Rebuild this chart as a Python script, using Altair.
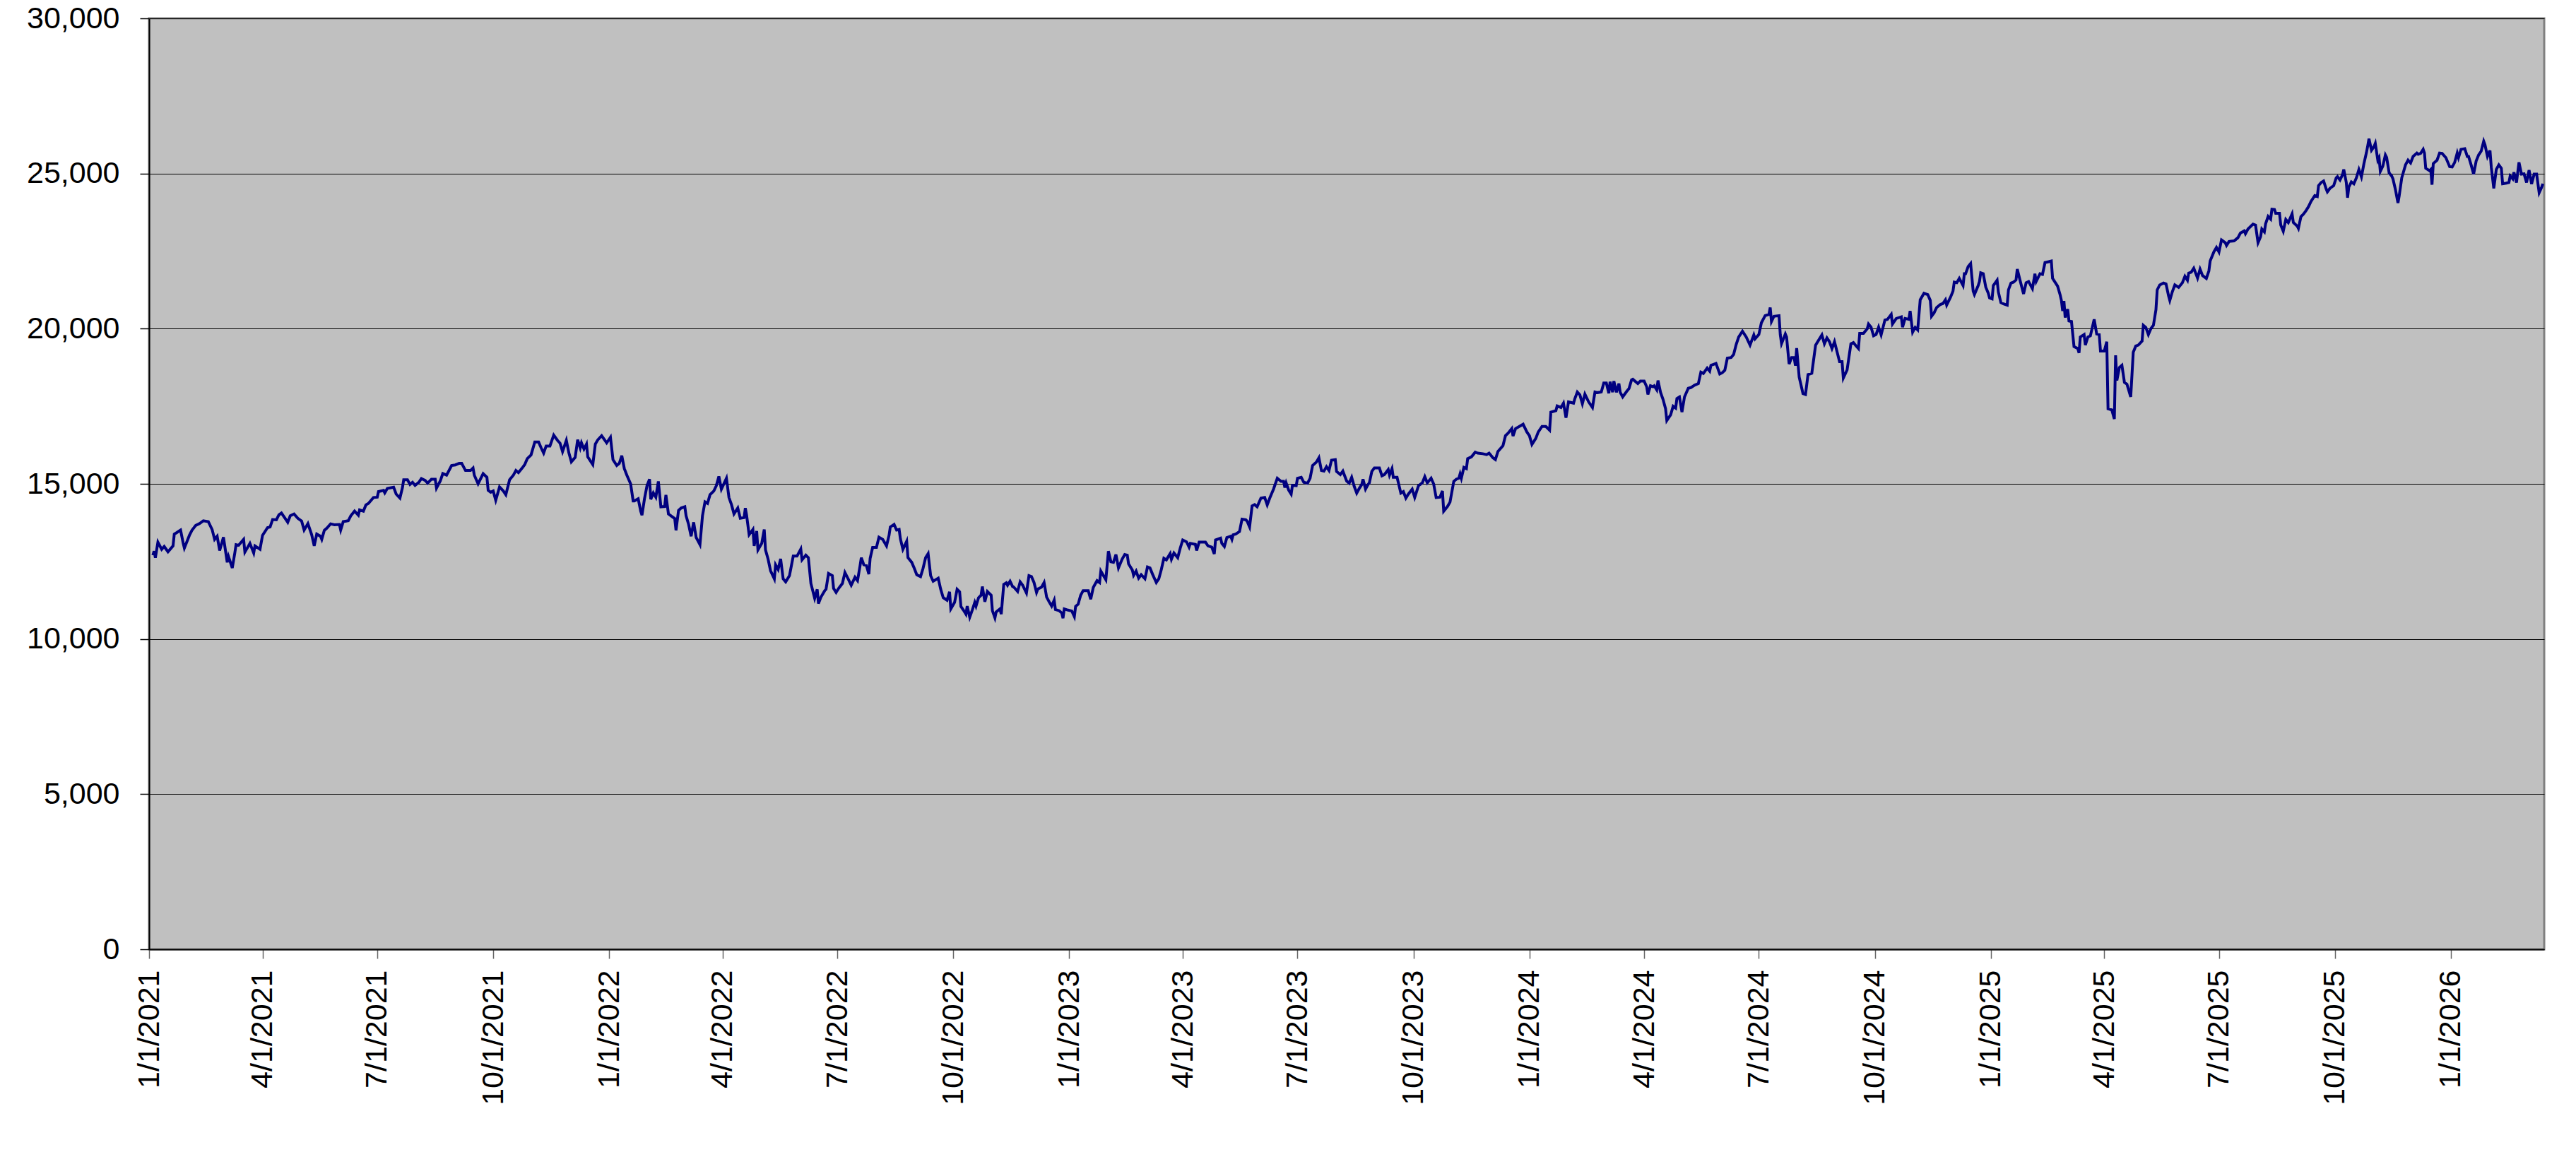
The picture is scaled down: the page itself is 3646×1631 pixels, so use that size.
import altair as alt
import pandas as pd

# Days since 2021-01-01 and index level
days_2021 = [3, 4, 5, 7, 10, 12, 15, 19, 20, 22, 25, 27, 28, 32, 34, 37, 40, 43, 47, 50, 52, 54, 56, 59, 62, 63, 66, 68, 69, 71, 75, 76, 80, 83, 84, 88, 90, 94, 96, 98, 101, 103, 105, 108, 110, 112, 115, 118, 121, 123, 126, 129, 131, 133, 136, 137, 139, 141, 144, 147, 151, 152, 154, 158, 160, 163, 166, 167, 170, 172, 174, 178, 181, 182, 186, 187, 189, 194, 196, 199, 201, 202, 205, 207, 209, 211, 214, 216, 219, 221, 224, 227, 228, 231, 233, 236, 240, 243, 246, 248, 251, 255, 257, 258, 261, 265, 268, 269, 271, 273, 275, 278, 281, 283, 286, 289, 291, 293, 296, 298, 300, 303, 306, 309, 311, 313, 315, 318, 321, 324, 326, 328, 331, 333, 335, 338, 340, 342, 343, 345, 347, 348, 352, 354, 356, 359, 363]
vals_2021 = [12700, 12830, 12620, 13120, 12890, 12980, 12810, 13000, 13380, 13430, 13510, 13100, 12930, 13340, 13500, 13660, 13720, 13810, 13780, 13530, 13210, 13310, 12850, 13280, 12470, 12660, 12290, 12770, 13040, 13020, 13210, 12800, 13080, 12770, 13000, 12890, 13340, 13590, 13610, 13850, 13840, 14000, 14060, 13880, 13760, 13970, 14030, 13890, 13800, 13510, 13720, 13360, 13000, 13380, 13310, 13210, 13500, 13570, 13710, 13680, 13690, 13510, 13780, 13810, 13970, 14120, 13990, 14160, 14120, 14320, 14370, 14560, 14570, 14750, 14790, 14710, 14850, 14890, 14670, 14540, 14880, 15130, 15130, 14980, 15050, 14950, 15050, 15170, 15110, 15020, 15150, 15150, 14860, 15090, 15330, 15280, 15590, 15610, 15660, 15660, 15430, 15430, 15510, 15280, 15000, 15330, 15210, 14790, 14730, 14770, 14470, 14900, 14770, 14650, 15130, 15280, 15430, 15360, 15510, 15620, 15810, 15930, 16350, 16350, 16160, 15990, 16220, 16220, 16570, 16400, 16310, 16040, 16400, 16000, 15710, 15850, 16420, 16160, 16320, 16120, 16280, 15870, 15620, 16280, 16420, 16550, 16320]

days_2022 = [366, 368, 371, 373, 375, 377, 379, 382, 384, 385, 388, 390, 391, 393, 395, 397, 398, 400, 402, 404, 406, 409, 410, 412, 415, 417, 418, 420, 422, 425, 426, 428, 430, 432, 434, 437, 439, 441, 443, 445, 448, 450, 452, 454, 458, 460, 462, 464, 467, 469, 472, 473, 474, 476, 479, 480, 482, 483, 486, 488, 489, 491, 493, 496, 497, 499, 501, 503, 505, 508, 511, 514, 517, 518, 521, 523, 525, 528, 530, 531, 533, 536, 537, 539, 542, 543, 545, 547, 550, 552, 555, 557, 560, 562, 564, 565, 567, 569, 571, 572, 574, 577, 579, 582, 585, 587, 588, 591, 593, 595, 596, 598, 601, 602, 605, 607, 609, 612, 614, 616, 618, 620, 622, 626, 628, 630, 633, 635, 636, 639, 641, 643, 644, 646, 648, 649, 651, 653, 655, 656, 658, 660, 661, 663, 665, 668, 669, 671, 672, 675, 676, 678, 680, 681, 683, 685, 686, 689, 691, 693, 696, 698, 700, 702, 704, 705, 708, 710, 712, 714, 716, 718, 719, 722, 724, 725, 726, 729]
vals_2022 = [16500, 15780, 15590, 15660, 15910, 15490, 15280, 15000, 14450, 14450, 14520, 14120, 13990, 14520, 14940, 15150, 14500, 14710, 14570, 15080, 14260, 14270, 14640, 14030, 13940, 13880, 13500, 14140, 14220, 14260, 13970, 13690, 13310, 13760, 13270, 13040, 13970, 14420, 14370, 14650, 14770, 14940, 15240, 14830, 15180, 14560, 14330, 14030, 14220, 13890, 13910, 14220, 13990, 13360, 13530, 13000, 13480, 12870, 13080, 13530, 12870, 12580, 12200, 11940, 12390, 12240, 12580, 11940, 11840, 12040, 12670, 12670, 12900, 12550, 12700, 12620, 11790, 11310, 11600, 11140, 11350, 11560, 11600, 12110, 12040, 11630, 11500, 11630, 11790, 12140, 11900, 11730, 11990, 11880, 12360, 12620, 12390, 12370, 12090, 12600, 12950, 12950, 13280, 13210, 13000, 13340, 13610, 13690, 13510, 13530, 13230, 12890, 13150, 12620, 12470, 12280, 12070, 12010, 12280, 12620, 12750, 12040, 11860, 11960, 11600, 11330, 11250, 11520, 10970, 11180, 11600, 11520, 11050, 10930, 10800, 11060, 10700, 10930, 11180, 11060, 11330, 11410, 11690, 11200, 11530, 11410, 10910, 10680, 10870, 10970, 10800, 11760, 11810, 11730, 11860, 11690, 11670, 11530, 11840, 11730, 11480, 12040, 12010, 11820, 11500, 11610, 11670, 11820, 11350, 11200, 11060, 11250, 10950, 10910, 10840, 10670, 10970, 10930]

days_2023 = [732, 734, 735, 737, 739, 741, 745, 747, 749, 752, 754, 755, 759, 761, 763, 765, 767, 769, 772, 774, 776, 777, 780, 781, 783, 785, 787, 790, 792, 794, 796, 799, 801, 803, 805, 807, 810, 811, 813, 816, 818, 820, 823, 825, 826, 830, 831, 833, 838, 840, 843, 845, 846, 850, 851, 853, 855, 858, 859, 860, 862, 865, 867, 870, 871, 873, 875, 877, 879, 882, 885, 887, 889, 892, 895, 898, 900, 901, 902, 904, 906, 907, 910, 911, 914, 916, 919, 921, 923, 926, 928, 930, 932, 934, 936, 938, 941, 942, 945, 947, 950, 952, 954, 956, 958, 960, 962, 963, 965, 967, 968, 970, 972, 976, 978, 980, 983, 984, 986, 987, 990, 993, 995, 997, 999, 1002, 1004, 1007, 1010, 1012, 1014, 1017, 1019, 1021, 1024, 1026, 1027, 1030, 1032, 1035, 1037, 1039, 1040, 1041, 1043, 1045, 1046, 1049, 1052, 1054, 1058, 1061, 1063, 1066, 1068, 1070, 1074, 1076, 1078, 1081, 1082, 1084, 1087, 1090, 1093]
vals_2023 = [10900, 10720, 11050, 11120, 11410, 11560, 11560, 11280, 11660, 11880, 11820, 12190, 11910, 12830, 12490, 12470, 12720, 12290, 12580, 12720, 12700, 12420, 12220, 12050, 12190, 11960, 12070, 11940, 12320, 12290, 12090, 11820, 11940, 12240, 12600, 12550, 12750, 12570, 12770, 12620, 12930, 13190, 13130, 12960, 13080, 13050, 12850, 13120, 13120, 13000, 12960, 12740, 13190, 13250, 13080, 12980, 13270, 13310, 13210, 13360, 13380, 13460, 13860, 13840, 13800, 13610, 14290, 14330, 14260, 14540, 14560, 14320, 14540, 14830, 15180, 15080, 15080, 14880, 15030, 14800, 14670, 14950, 14940, 15180, 15210, 15050, 15020, 15180, 15590, 15700, 15840, 15430, 15410, 15550, 15430, 15760, 15780, 15400, 15300, 15410, 15090, 15020, 15210, 14920, 14700, 14850, 14980, 15150, 14830, 14980, 15030, 15400, 15510, 15510, 15260, 15300, 15460, 15280, 15490, 15210, 15210, 14700, 14750, 14540, 14670, 14830, 14560, 14940, 15030, 15230, 15030, 15180, 15000, 14560, 14570, 14770, 14120, 14270, 14410, 15080, 15150, 15180, 15320, 15180, 15530, 15490, 15810, 15870, 16020, 15990, 15970, 15940, 15990, 15840, 15780, 16040, 16230, 16550, 16630, 16780, 16540, 16780, 16850, 16920, 16670]

days_2024 = [1095, 1097, 1100, 1102, 1105, 1108, 1111, 1112, 1116, 1117, 1120, 1122, 1124, 1126, 1130, 1131, 1133, 1135, 1137, 1139, 1142, 1145, 1147, 1149, 1152, 1154, 1156, 1158, 1159, 1161, 1162, 1164, 1166, 1167, 1169, 1172, 1174, 1176, 1177, 1181, 1183, 1186, 1188, 1189, 1191, 1193, 1194, 1196, 1197, 1199, 1201, 1203, 1204, 1207, 1209, 1211, 1212, 1214, 1216, 1218, 1221, 1223, 1226, 1229, 1231, 1233, 1236, 1238, 1239, 1243, 1246, 1248, 1250, 1252, 1255, 1257, 1259, 1261, 1264, 1267, 1270, 1273, 1274, 1277, 1279, 1282, 1285, 1286, 1287, 1289, 1293, 1294, 1295, 1298, 1299, 1301, 1303, 1305, 1306, 1307, 1309, 1312, 1314, 1316, 1319, 1322, 1324, 1327, 1329, 1331, 1333, 1335, 1337, 1341, 1343, 1344, 1347, 1350, 1352, 1354, 1356, 1357, 1360, 1363, 1364, 1366, 1368, 1370, 1372, 1374, 1377, 1379, 1382, 1383, 1386, 1390, 1391, 1393, 1396, 1397, 1399, 1401, 1403, 1405, 1408, 1411, 1413, 1414, 1416, 1418, 1421, 1423, 1425, 1426, 1429, 1431, 1432, 1434, 1436, 1439, 1440, 1441, 1443, 1445, 1447, 1448, 1451, 1452, 1453, 1455, 1457, 1459, 1460]
vals_2024 = [16550, 16270, 16460, 16670, 16850, 16850, 16730, 17310, 17360, 17510, 17460, 17600, 17130, 17640, 17600, 17740, 17960, 17870, 17580, 17890, 17640, 17460, 17960, 17940, 17960, 18250, 18250, 17920, 18290, 17950, 18310, 17950, 18230, 17950, 17800, 17970, 18070, 18350, 18370, 18230, 18310, 18310, 18130, 17880, 18160, 18130, 18160, 18030, 18330, 17950, 17720, 17420, 17040, 17220, 17500, 17440, 17750, 17800, 17310, 17800, 18080, 18100, 18180, 18230, 18600, 18560, 18730, 18630, 18820, 18880, 18540, 18580, 18660, 19050, 19070, 19170, 19490, 19730, 19920, 19730, 19470, 19800, 19670, 19810, 20190, 20420, 20460, 20680, 20230, 20400, 20420, 19800, 19520, 19830, 19730, 18860, 19070, 19070, 18810, 19370, 18440, 17910, 17880, 18520, 18560, 19470, 19600, 19800, 19510, 19700, 19580, 19360, 19580, 18940, 18940, 18410, 18670, 19510, 19550, 19450, 19360, 19850, 19850, 20000, 20150, 20050, 19770, 19810, 20050, 19800, 20280, 20300, 20460, 20150, 20330, 20380, 20050, 20330, 20300, 20570, 19890, 20040, 19960, 20930, 21140, 21100, 20910, 20400, 20510, 20680, 20780, 20810, 20930, 20760, 21010, 21210, 21500, 21480, 21620, 21390, 21770, 21770, 22000, 22100, 21210, 21100, 21390, 21520, 21800, 21770, 21340, 21140, 20990]

days_2025 = [1462, 1463, 1466, 1467, 1469, 1471, 1474, 1475, 1477, 1479, 1481, 1482, 1484, 1487, 1489, 1491, 1494, 1496, 1497, 1500, 1502, 1504, 1507, 1509, 1510, 1514, 1516, 1517, 1518, 1519, 1520, 1522, 1523, 1525, 1527, 1530, 1531, 1532, 1535, 1536, 1538, 1540, 1543, 1545, 1547, 1548, 1551, 1553, 1554, 1557, 1559, 1560, 1561, 1563, 1565, 1567, 1569, 1572, 1574, 1576, 1578, 1581, 1582, 1584, 1586, 1588, 1590, 1592, 1593, 1595, 1598, 1600, 1602, 1603, 1605, 1607, 1610, 1613, 1615, 1617, 1618, 1620, 1622, 1625, 1627, 1629, 1632, 1634, 1635, 1638, 1640, 1642, 1644, 1647, 1648, 1650, 1654, 1657, 1659, 1662, 1663, 1665, 1669, 1671, 1673, 1675, 1676, 1678, 1679, 1681, 1683, 1684, 1686, 1687, 1690, 1691, 1693, 1695, 1697, 1700, 1701, 1704, 1705, 1707, 1709, 1711, 1713, 1715, 1718, 1720, 1721, 1723, 1725, 1727, 1728, 1730, 1733, 1735, 1736, 1738, 1740, 1741, 1743, 1744, 1745, 1747, 1749, 1751, 1753, 1755, 1757, 1759, 1760, 1761, 1763, 1765, 1766, 1768, 1769, 1770, 1772, 1774, 1775, 1777, 1779, 1780, 1782, 1784, 1785, 1787, 1790, 1792, 1794, 1796, 1799, 1800, 1802, 1804, 1805, 1806, 1809, 1810, 1811, 1812, 1815, 1817, 1819, 1822, 1825]
vals_2025 = [20960, 21390, 21560, 21180, 20840, 20800, 20760, 21250, 21470, 21500, 21570, 21920, 21590, 21120, 21480, 21520, 21290, 21770, 21520, 21770, 21750, 22130, 22160, 22180, 21620, 21370, 21090, 20910, 20570, 20890, 20360, 20630, 20250, 20230, 19420, 19360, 19220, 19730, 19810, 19470, 19730, 19770, 20300, 19830, 19810, 19280, 19280, 19580, 17420, 17380, 17090, 19140, 18330, 18750, 18820, 18270, 18210, 17800, 19240, 19440, 19470, 19600, 20110, 20040, 19810, 20000, 20110, 20610, 21250, 21410, 21470, 21440, 21060, 20910, 21190, 21410, 21330, 21480, 21690, 21560, 21790, 21820, 21950, 21630, 21920, 21710, 21620, 21860, 22180, 22480, 22620, 22470, 22860, 22770, 22680, 22810, 22830, 22930, 23080, 23150, 23060, 23210, 23370, 23340, 22770, 22960, 23210, 23120, 23380, 23620, 23530, 23850, 23840, 23720, 23720, 23340, 23140, 23520, 23420, 23700, 23420, 23310, 23230, 23610, 23690, 23800, 23930, 24100, 24290, 24260, 24610, 24710, 24760, 24510, 24410, 24520, 24610, 24860, 24900, 24790, 24960, 25130, 24710, 24220, 24560, 24730, 24670, 24860, 25130, 24890, 25320, 25680, 25890, 26120, 25750, 25870, 25970, 25430, 25510, 25070, 25240, 25600, 25520, 25020, 24920, 24830, 24480, 24050, 24290, 24860, 25280, 25430, 25340, 25550, 25660, 25620, 25650, 25780, 25660, 25170, 25090, 25130, 24640, 25320, 25430, 25660, 25650, 25510, 25220]

days_2026 = [1827, 1829, 1831, 1832, 1834, 1837, 1839, 1840, 1842, 1844, 1846, 1848, 1850, 1852, 1853, 1855, 1857, 1858, 1860, 1862, 1864, 1866, 1867, 1870, 1872, 1873, 1875, 1876, 1878, 1880, 1882, 1884, 1886, 1888, 1890, 1892, 1894, 1896, 1898, 1899]
vals_2026 = [25210, 25360, 25660, 25510, 25780, 25800, 25550, 25550, 25280, 24980, 25400, 25600, 25720, 26040, 25930, 25550, 25740, 25210, 24520, 25130, 25280, 25170, 24670, 24690, 24710, 24920, 24830, 25040, 24710, 25360, 24980, 24990, 24710, 25110, 24660, 24980, 24980, 24380, 24560, 24670]

y_ticks = [0, 5000, 10000, 15000, 20000, 25000, 30000]
x_tick_months = [(2021, 1), (2021, 4), (2021, 7), (2021, 10), (2022, 1), (2022, 4), (2022, 7),
                 (2022, 10), (2023, 1), (2023, 4), (2023, 7), (2023, 10), (2024, 1), (2024, 4),
                 (2024, 7), (2024, 10), (2025, 1), (2025, 4), (2025, 7), (2025, 10), (2026, 1)]
x_start = (2021, 1, 1)
x_end = (2026, 3, 16)

days = days_2021 + days_2022 + days_2023 + days_2024 + days_2025 + days_2026
vals = vals_2021 + vals_2022 + vals_2023 + vals_2024 + vals_2025 + vals_2026

start = pd.Timestamp(year=x_start[0], month=x_start[1], day=x_start[2])
df = pd.DataFrame({
    "date": [(start + pd.Timedelta(days=d)).strftime("%Y-%m-%dT00:00:00") for d in days],
    "value": vals,
})

FONT = "Liberation Sans"

chart = alt.Chart(df).mark_line(color="#000080", strokeWidth=4, clip=True).encode(
    x=alt.X(
        "date:T",
        scale=alt.Scale(domain=[alt.DateTime(year=x_start[0], month=x_start[1], date=x_start[2]),
                                alt.DateTime(year=x_end[0], month=x_end[1], date=x_end[2])]),
        axis=alt.Axis(
            title=None,
            values=[alt.DateTime(year=y, month=m, date=1) for (y, m) in x_tick_months],
            format="%-m/%-d/%Y",
            labelAngle=270,
            labelFontSize=43,
            labelFont=FONT,
            labelColor="black",
            labelPadding=16,
            labelOverlap=False,
            labelFlush=False,
            labelLimit=0,
            grid=False,
            domainColor="black",
            domainWidth=2,
            tickColor="#666666",
            tickWidth=1.5,
            tickSize=13,
        ),
    ),
    y=alt.Y(
        "value:Q",
        scale=alt.Scale(domain=[0, 30000], nice=False, zero=True),
        axis=alt.Axis(
            title=None,
            values=y_ticks,
            format=",d",
            labelFontSize=43,
            labelFont=FONT,
            labelColor="black",
            labelPadding=29,
            labelOverlap=False,
            labelFlush=False,
            labelLimit=0,
            grid=True,
            gridColor="#000000",
            gridWidth=1.2,
            domainColor="black",
            domainWidth=2,
            tickColor="black",
            tickWidth=1.5,
            tickSize=13,
        ),
    ),
).properties(
    width=3390,
    height=1318,
    autosize=alt.AutoSizeParams(type="none"),
    padding={"left": 203, "top": 18, "right": 20, "bottom": 250},
    background="white",
).configure_view(
    fill="#C0C0C0",
    stroke="#808080",
    strokeWidth=3,
)

chart.save("out.html", embed_options={"renderer": "svg", "actions": False})
